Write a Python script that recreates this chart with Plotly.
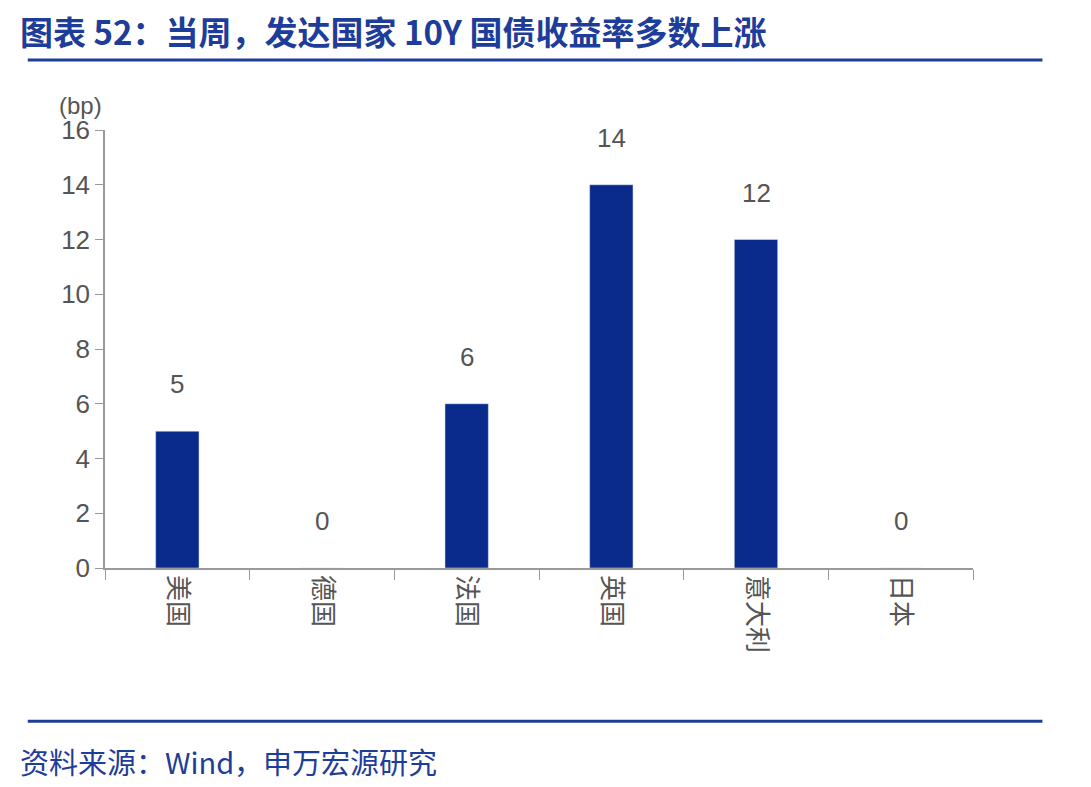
import plotly.graph_objects as go

categories = ["美国", "德国", "法国", "英国", "意大利", "日本"]
values = [5, 0, 6, 14, 12, 0]
yticks = [0, 2, 4, 6, 8, 10, 12, 14, 16]

BLUE = "#0B2B8C"
GRAY = "#555555"
font = "Noto Sans CJK SC"

fig = go.Figure(go.Bar(x=categories, y=values, marker_color=BLUE, width=0.3))

for c, v in zip(categories, values):
    fig.add_annotation(x=c, y=v, text=str(v), showarrow=False, yanchor="bottom",
                       yshift=30, font=dict(size=26, color=GRAY, family="Liberation Sans"))

fig.update_layout(
    width=1091, height=787, plot_bgcolor="white", paper_bgcolor="white",
    margin=dict(l=97, r=126, t=122, b=227), showlegend=False,
    xaxis=dict(tickangle=90, ticks="outside", tickson="boundaries", ticklen=10,
               tickcolor="#999", showline=True, linecolor="#999", linewidth=1.5,
               tickfont=dict(size=26, color=GRAY, family=font)),
    yaxis=dict(range=[0, 16], tickvals=yticks, ticks="outside", ticklen=8, tickcolor="#999",
               showline=True, linecolor="#999", linewidth=1.5, showgrid=False, zeroline=False,
               tickfont=dict(size=26, color=GRAY, family="Liberation Sans")),
)
fig.add_annotation(xref="paper", yref="paper", x=-0.055, y=1.02, xanchor="left", yanchor="bottom",
                   text="(bp)", showarrow=False, font=dict(size=24, color=GRAY, family="Liberation Sans"))
fig.add_annotation(xref="paper", yref="paper", x=-0.1, y=1.225, xanchor="left", yanchor="middle",
                   text="<b>图表 52：当周，发达国家 10Y 国债收益率多数上涨</b>", showarrow=False,
                   font=dict(size=33, color="#1E3C9A", family=font))
fig.add_annotation(xref="paper", yref="paper", x=-0.1, y=-0.44, xanchor="left", yanchor="middle",
                   text="资料来源：Wind，申万宏源研究", showarrow=False,
                   font=dict(size=29, color="#1E3C9A", family=font))
fig.add_shape(type="line", xref="paper", yref="paper", x0=-0.089, x1=1.08, y0=1.16, y1=1.16,
              line=dict(color="#1E3C9A", width=3))
fig.add_shape(type="line", xref="paper", yref="paper", x0=-0.089, x1=1.08, y0=-0.35, y1=-0.35,
              line=dict(color="#1E3C9A", width=3))
fig.write_html("out.html")
